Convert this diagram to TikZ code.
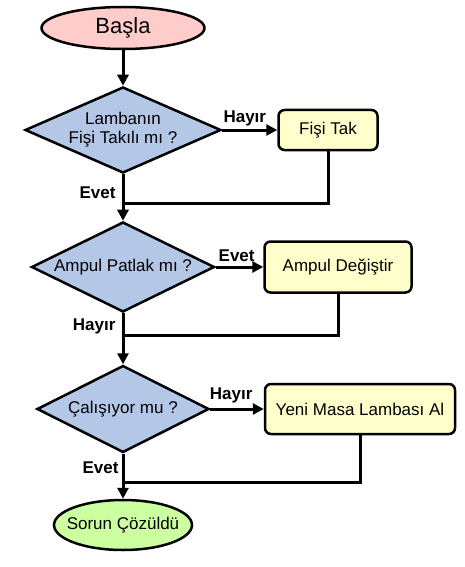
\documentclass[tikz,border=0pt]{standalone}
\usepackage{fontspec}
\setmainfont{Liberation Sans}
\usetikzlibrary{shapes.geometric,arrows.meta}

\definecolor{startpink}{RGB}{255,204,204}
\definecolor{decblue}{RGB}{180,199,231}
\definecolor{procyellow}{RGB}{255,255,204}
\definecolor{endgreen}{RGB}{204,255,160}

\begin{document}
\begin{tikzpicture}[x=1pt, y=-1pt,
		every node/.style={font=\fontsize{17}{19}\selectfont},
		terminal/.style={ellipse, draw, line width=2.5pt, inner sep=-10pt},
		decision/.style={diamond, draw, line width=2.5pt, fill=decblue, inner sep=-6pt, aspect=2.2, align=center},
		process/.style={rectangle, rounded corners=6pt, draw, line width=2.5pt, fill=procyellow, inner sep=0pt},
		flow/.style={line width=3pt, -{Triangle[length=11pt,width=11pt]}},
		mergeline/.style={line width=3pt},
		answer/.style={font=\fontsize{17}{19}\selectfont\bfseries, inner sep=2pt}]
		\useasboundingbox (0,0) rectangle (464,567);
		
		% Coordinates
		\coordinate (m1) at (123, 203);
		\coordinate (m2) at (123, 335);
		\coordinate (m3) at (123, 482);
		
		% Shapes
		\node[terminal, fill=startpink, minimum width=163pt, minimum height=42pt, font=\fontsize{22}{24}\selectfont] (basla) at (123, 28) {Başla};
		\node[decision, minimum width=196pt, minimum height=86pt] (fis) at (123, 130) {Lambanın\\Fişi Takılı mı ?};
		\node[process, minimum width=99pt, minimum height=40pt] (tak) at (328, 130) {Fişi Tak};
		\node[decision, minimum width=183pt, minimum height=90pt] (ampul) at (123, 267) {Ampul Patlak mı ?};
		\node[process, minimum width=147pt, minimum height=51pt] (degis) at (338, 267) {Ampul Değiştir};
		\node[decision, minimum width=172pt, minimum height=87pt] (calis) at (123, 409) {Çalışıyor mu ?};
		\node[process, minimum width=190pt, minimum height=50pt] (yeni) at (360, 409) {Yeni Masa Lambası Al};
		\node[terminal, fill=endgreen, minimum width=138pt, minimum height=50pt] (son) at (123, 525) {Sorun Çözüldü};
		
		% First question
		\draw[flow] (basla) -- (fis);
		\draw[flow] (fis) -- node[answer, above, pos=0.41] {Hayır} (tak);
		\draw[flow] (fis) -- node[answer, left=4pt, pos=0.39] {Evet} (ampul);
		\draw[mergeline] (tak) |- (m1);
		
		% Second question
		\draw[flow] (ampul) -- node[answer, above=2pt, pos=0.44] {Evet} (degis);
		\draw[flow] (ampul) -- node[answer, left=4pt, pos=0.25] {Hayır} (calis);
		\draw[mergeline] (degis) |- (m2);
		
		% Third question
		\draw[flow] (calis) -- node[answer, above=2pt, pos=0.39] {Hayır} (yeni);
		\draw[flow] (calis) -- node[answer, left=1pt, pos=0.31] {Evet} (son);
		\draw[mergeline] (yeni) |- (m3);
	\end{tikzpicture}
\end{document}
